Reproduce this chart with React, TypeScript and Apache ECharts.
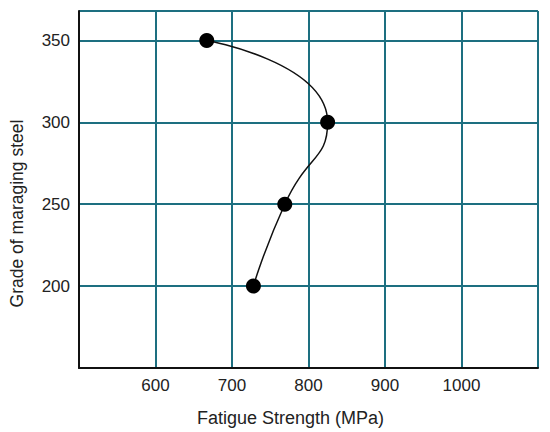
import React, { useEffect, useRef } from "react";
import * as echarts from "echarts";

const fatigueStrength = [667, 825, 769, 728];
const steelGrade = [350, 300, 250, 200];
const xTickLabels = [600, 700, 800, 900, 1000];
const yTickLabels = [200, 250, 300, 350];

export default function App() {
  const ref = useRef<HTMLDivElement>(null);
  useEffect(() => {
    const chart = echarts.init(ref.current!, null, { renderer: "svg" });
    const teal = "#1d6f80";
    const font = "Liberation Sans";
    chart.setOption({
      animation: false,
      grid: { left: 77, right: 12, top: 11, bottom: 63 },
      xAxis: {
        type: "value",
        min: 500,
        max: 1100,
        interval: 100,
        name: "Fatigue Strength (MPa)",
        nameLocation: "middle",
        nameGap: 41,
        nameTextStyle: { fontSize: 18, color: "#222", fontFamily: font, padding: [0, 36, 0, 0] },
        axisLine: { show: true, lineStyle: { color: "#111", width: 2 } },
        axisTick: { show: false },
        axisLabel: {
          fontSize: 17,
          color: "#222",
          fontFamily: font,
          margin: 9,
          formatter: (v: number) => (xTickLabels.includes(v) ? String(v) : ""),
        },
        splitLine: { show: true, lineStyle: { color: teal, width: 2 } },
      },
      yAxis: {
        type: "value",
        min: 150,
        max: 368,
        interval: 50,
        name: "Grade of maraging steel",
        nameLocation: "middle",
        nameGap: 53,
        nameTextStyle: { fontSize: 17.5, color: "#222", fontFamily: font, padding: [0, 48, 0, 0] },
        axisLine: { show: true, lineStyle: { color: "#111", width: 2 } },
        axisTick: { show: false },
        axisLabel: {
          fontSize: 17,
          color: "#222",
          fontFamily: font,
          margin: 9,
          formatter: (v: number) => (yTickLabels.includes(v) ? String(v) : ""),
        },
        splitLine: { show: true, lineStyle: { color: teal, width: 2 } },
      },
      series: [
        {
          type: "line",
          data: fatigueStrength.map((x, i) => [x, steelGrade[i]]),
          smooth: 0.6,
          symbol: "circle",
          symbolSize: 15,
          itemStyle: { color: "#000" },
          lineStyle: { color: "#111", width: 1.5 },
        },
      ],
    });
    return () => chart.dispose();
  }, []);
  return (
    <div
      ref={ref}
      style={{ position: "absolute", left: 0, top: 0, width: 550, height: 432 }}
    />
  );
}
